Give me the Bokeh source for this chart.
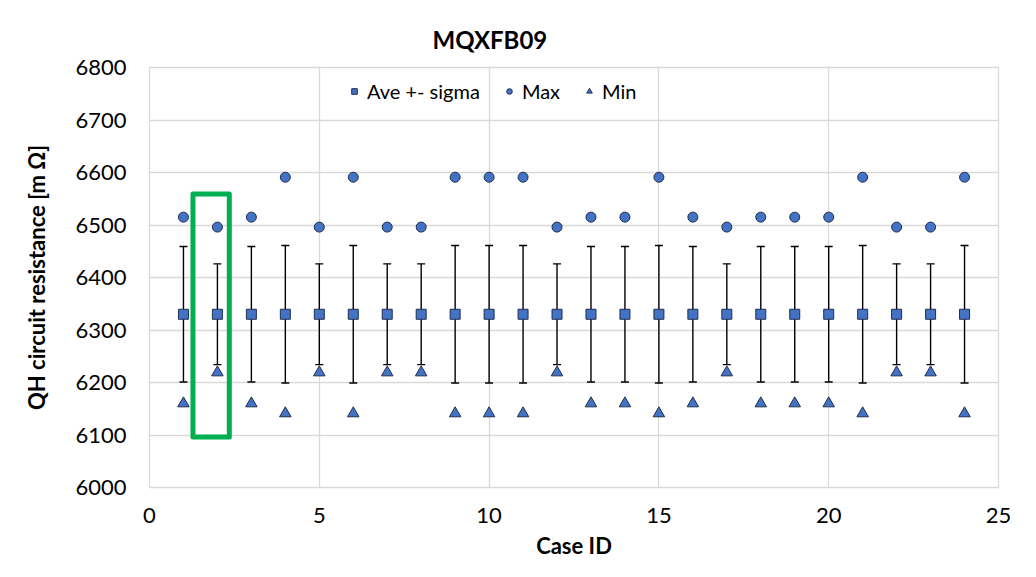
from bokeh.plotting import figure
from bokeh.models import ColumnDataSource, Whisker, TeeHead, Legend, LegendItem, FixedTicker, Range1d
from bokeh.embed import file_html
from bokeh.resources import INLINE

# ---- data ----
case_id = list(range(1, 25))
ave = [6330] * 24
sigma = [129, 96, 129, 131, 96, 131, 96, 96, 131, 131, 131, 96,
         129, 129, 131, 129, 96, 129, 129, 129, 131, 96, 96, 131]
max_val = [6515, 6496, 6515, 6591, 6496, 6591, 6496, 6496, 6591, 6591, 6591, 6496,
           6515, 6515, 6591, 6515, 6496, 6515, 6515, 6515, 6591, 6496, 6496, 6591]
min_val = [6160, 6219, 6160, 6141, 6219, 6141, 6219, 6219, 6141, 6141, 6141, 6219,
           6160, 6160, 6141, 6160, 6219, 6160, 6160, 6160, 6141, 6219, 6219, 6141]
x_ticks = [0, 5, 10, 15, 20, 25]
y_ticks = [6000, 6100, 6200, 6300, 6400, 6500, 6600, 6700, 6800]
highlight_left, highlight_right = 1.28, 2.35
highlight_low, highlight_high = 6096, 6559

FONT = "Lato"
BLUE = "#4472C4"
EDGE = "#1f2f4f"
GRID = "#d9d9d9"

src = ColumnDataSource(dict(
    x=case_id, ave=ave, mx=max_val, mn=min_val,
    upper=[a + s for a, s in zip(ave, sigma)],
    lower=[a - s for a, s in zip(ave, sigma)],
))

p = figure(width=1020, height=561, output_backend="svg", toolbar_location=None,
           x_range=Range1d(0, 25), y_range=Range1d(6000, 6800),
           min_border_left=149, min_border_right=22, min_border_bottom=74, min_border_top=67)

p.title.text = "MQXFB09"
p.title.text_font = FONT
p.title.text_font_size = "24px"
p.title.text_font_style = "bold"
p.title.align = "left"
p.title.offset = 283
p.title.standoff = 27
p.title.text_color = "#000000"

p.outline_line_color = GRID
p.outline_line_width = 1.3
p.xgrid.grid_line_color = GRID
p.ygrid.grid_line_color = GRID
p.xgrid.grid_line_width = 1.3
p.ygrid.grid_line_width = 1.3

p.xaxis.ticker = FixedTicker(ticks=x_ticks)
p.yaxis.ticker = FixedTicker(ticks=y_ticks)
for ax in (p.xaxis, p.yaxis):
    ax.axis_line_color = None
    ax.major_tick_line_color = None
    ax.minor_tick_line_color = None
    ax.major_label_text_font = FONT
    ax.major_label_text_font_size = "22px"
    ax.major_label_text_color = "#000000"
    ax.axis_label_text_font = FONT
    ax.axis_label_text_font_size = "22px"
    ax.axis_label_text_font_style = "bold"
    ax.axis_label_text_color = "#000000"
p.xaxis.axis_label = "Case ID"
p.yaxis.axis_label = "QH circuit resistance [m Ω]"
p.xaxis.major_label_standoff = 14
p.yaxis.major_label_standoff = 17
p.xaxis.axis_label_standoff = 6
p.yaxis.axis_label_standoff = 22

# error bars
w = Whisker(source=src, base="x", upper="upper", lower="lower",
            line_color="black", line_width=1.4,
            upper_head=TeeHead(size=8, line_color="black", line_width=1.4),
            lower_head=TeeHead(size=8, line_color="black", line_width=1.4))
p.add_layout(w)

r_ave = p.scatter("x", "ave", source=src, marker="square", size=10,
                  fill_color=BLUE, line_color=EDGE, line_width=1)
r_max = p.scatter("x", "mx", source=src, marker="circle", size=10,
                  fill_color=BLUE, line_color=EDGE, line_width=1)
r_min = p.scatter("x", "mn", source=src, marker="triangle", size=11.5,
                  fill_color=BLUE, line_color=EDGE, line_width=1)

# highlight box
p.quad(left=[highlight_left], right=[highlight_right],
       bottom=[highlight_low], top=[highlight_high],
       fill_color=None, line_color="#00B050", line_width=5, line_join="round")

legend = Legend(items=[
    LegendItem(label="Ave +- sigma", renderers=[r_ave]),
    LegendItem(label="Max", renderers=[r_max]),
    LegendItem(label="Min", renderers=[r_min]),
], orientation="horizontal", location=(198, 384),
    label_text_font=FONT, label_text_font_size="20px", label_text_color="#000000",
    background_fill_alpha=0, border_line_color=None,
    glyph_width=14, label_standoff=6, spacing=22)
p.add_layout(legend, "center")

open("out.html", "w").write(file_html(p, INLINE))
